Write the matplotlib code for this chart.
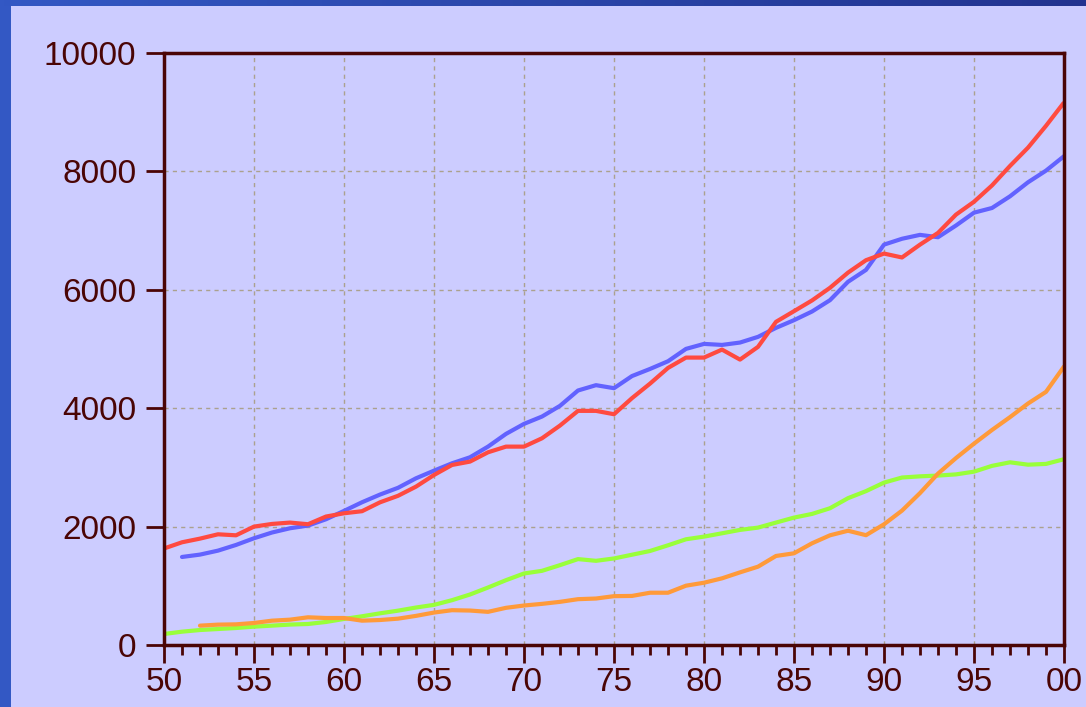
import numpy as np
import matplotlib
matplotlib.use('Agg')
import matplotlib.pyplot as plt
from matplotlib.ticker import MultipleLocator, FixedLocator
from matplotlib.colors import LinearSegmentedColormap

# Data (years 1950-2000)
years = list(range(1950, 2001))

red = [1630, 1735, 1797, 1870, 1853, 2000, 2045, 2068, 2040, 2170,
       2225, 2260, 2410, 2520, 2675, 2872, 3041, 3098, 3255, 3351,
       3351, 3492, 3707, 3955, 3955, 3898, 4170, 4415, 4680, 4855,
       4855, 4990, 4821, 5036, 5459, 5639, 5820, 6034, 6290, 6500,
       6612, 6546, 6763, 6961, 7270, 7487, 7763, 8092, 8401, 8770,
       9164]

# blue series starts in 1951
blue_years = list(range(1951, 2001))
blue = [1487, 1527, 1594, 1690, 1803, 1900, 1972, 2017, 2124,
        2265, 2411, 2541, 2655, 2816, 2945, 3069, 3171, 3351, 3566,
        3735, 3859, 4040, 4299, 4389, 4338, 4543, 4663, 4793, 5002,
        5086, 5069, 5109, 5205, 5357, 5487, 5633, 5825, 6135, 6336,
        6763, 6862, 6928, 6888, 7086, 7303, 7382, 7579, 7816, 8013,
        8257]

green = [186, 225, 253, 270, 287, 310, 327, 345, 355, 389,
         440, 485, 535, 580, 633, 678, 757, 853, 971, 1095,
         1208, 1253, 1349, 1451, 1422, 1462, 1525, 1588, 1684, 1786,
         1831, 1887, 1944, 1983, 2068, 2152, 2214, 2310, 2480, 2599,
         2743, 2829, 2849, 2862, 2882, 2928, 3026, 3086, 3046, 3059,
         3138]

# orange series starts in 1952
orange_years = list(range(1952, 2001))
orange = [327, 344, 349, 372, 411, 428, 468, 456,
          456, 411, 422, 445, 492, 548, 588, 582, 560, 628,
          667, 695, 729, 774, 785, 825, 829, 883, 883, 1002,
          1052, 1126, 1227, 1323, 1504, 1549, 1718, 1853, 1930, 1855,
          2039, 2270, 2566, 2895, 3158, 3401, 3632, 3849, 4079, 4276,
          4704]

x_tick_pos = list(range(1950, 2001, 5))
x_tick_labels = ['50', '55', '60', '65', '70', '75', '80', '85', '90', '95', '00']
y_tick_pos = [0, 2000, 4000, 6000, 8000, 10000]

bg = '#CCCCFF'
dark = '#4A0505'

plt.rcParams['font.family'] = ['Liberation Sans', 'DejaVu Sans']

fig = plt.figure(figsize=(10.86, 7.07), dpi=100, facecolor=bg)

# blue frame on the left and top
band_cmap = LinearSegmentedColormap.from_list('band', ['#3358C4', '#22338F'])
top_ax = fig.add_axes([0, 1 - 6 / 707, 1, 6 / 707])
top_ax.imshow(np.linspace(0, 1, 256)[None, :], aspect='auto', cmap=band_cmap)
top_ax.axis('off')
left_ax = fig.add_axes([0, 0, 11 / 1086, 1 - 6 / 707])
left_ax.set_facecolor('#3358C4')
left_ax.set_xticks([])
left_ax.set_yticks([])
for s in left_ax.spines.values():
    s.set_visible(False)

ax = fig.add_axes([164 / 1086, 1 - 645 / 707, 900 / 1086, 592 / 707])
ax.set_facecolor(bg)

ax.plot(blue_years, blue, color='#6262FF', lw=3.0, solid_capstyle='round')
ax.plot(years, red, color='#FF4A40', lw=3.0, solid_capstyle='butt')
ax.plot(years, green, color='#99FF3A', lw=3.0, solid_capstyle='butt')
ax.plot(orange_years, orange, color='#FF9A3A', lw=3.0, solid_capstyle='round')

ax.set_xlim(1950, 2000)
ax.set_ylim(0, 10000)

ax.xaxis.set_major_locator(FixedLocator(x_tick_pos))
ax.set_xticklabels(x_tick_labels)
ax.xaxis.set_minor_locator(MultipleLocator(1))
ax.set_yticks(y_tick_pos)
ax.set_yticklabels([str(v) for v in y_tick_pos])

ax.grid(True, which='major', color='#ABA18E', linestyle=(0, (3, 3)), linewidth=1.0)
ax.set_axisbelow(True)

ax.tick_params(axis='both', which='major', direction='out', length=13, width=2,
               color=dark, labelcolor=dark, labelsize=24)
ax.tick_params(axis='x', which='minor', direction='out', length=7, width=2, color=dark)
ax.tick_params(axis='x', which='major', pad=3)
ax.tick_params(axis='y', which='major', pad=7)

for s in ax.spines.values():
    s.set_color(dark)
    s.set_linewidth(2.5)

plt.savefig('out.png', dpi=100, facecolor=bg)
